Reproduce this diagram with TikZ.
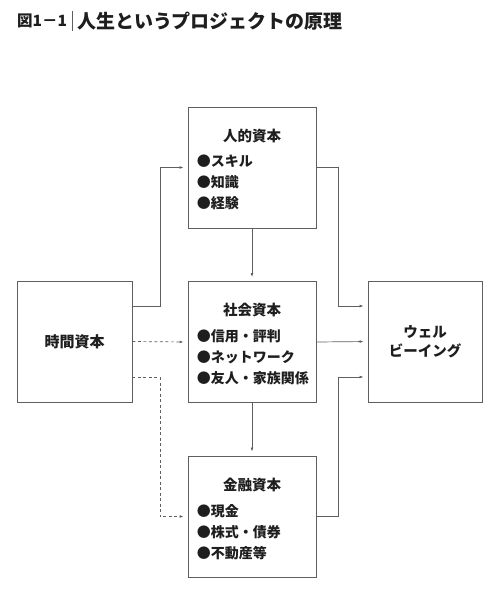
\documentclass[tikz,border=0pt]{standalone}
\usepackage{fontspec}
\setmainfont{Noto Sans CJK JP}
\usetikzlibrary{arrows.meta,positioning}
\definecolor{linegray}{HTML}{5F5F5F}
\definecolor{ink}{HTML}{1E1E1E}
\tikzset{
	box/.style={draw=linegray, line width=0.9pt, minimum width=128pt, minimum height=121pt, inner sep=0pt},
	head/.style={font=\bfseries\fontsize{14.5}{19}\selectfont, text=ink, inner sep=0pt},
	item/.style={font=\bfseries\fontsize{14}{17}\selectfont, text=ink, anchor=west, inner sep=0pt},
	link/.style={draw=linegray, line width=0.7pt, shorten >=4pt, -{Latex[length=4pt,width=2.8pt]}},
	dlink/.style={link, dash pattern=on 3pt off 2.5pt},
}
\begin{document}
\begin{tikzpicture}[x=1pt, y=-1pt]
			\useasboundingbox (0,0) rectangle (500,600);

			% title
			\node[anchor=west, inner sep=0pt, text=ink, font=\bfseries\fontsize{15.5}{18}\selectfont] (fig) at (17,21) {図1－1};
			\node[anchor=west, inner sep=0pt, text=ink, font=\bfseries\fontsize{19}{22}\selectfont] (ttl) at (77,21) {人生というプロジェクトの原理};
			\draw[linegray, line width=0.7pt] (72,11) -- (72,31);

			% boxes
			\node[box, minimum width=115pt] (time) at (74.5,341.5) {};
			\node[box] (human) at (252,167.5) {};
			\node[box] (social) at (252,342) {};
			\node[box] (finance) at (252,516.5) {};
			\node[box, minimum width=114pt] (wb) at (425,341.5) {};

			\node[head, font=\bfseries\fontsize{15}{19}\selectfont] (time-h) at (time) {時間資本};
			\node[head, align=center] (wb-h) at (wb) {ウェル\\ビーイング};

			\node[head] (human-h) at ([yshift=-29pt]human.north) {人的資本};
			\node[item] (human-1) at ([xshift=9pt,yshift=-55pt]human.north west) {●スキル};
			\node[item] (human-2) at ([xshift=9pt,yshift=-76pt]human.north west) {●知識};
			\node[item] (human-3) at ([xshift=9pt,yshift=-97pt]human.north west) {●経験};

			\node[head] (social-h) at ([yshift=-29pt]social.north) {社会資本};
			\node[item] (social-1) at ([xshift=9pt,yshift=-55pt]social.north west) {●信用・評判};
			\node[item] (social-2) at ([xshift=9pt,yshift=-76pt]social.north west) {●ネットワーク};
			\node[item] (social-3) at ([xshift=9pt,yshift=-97pt]social.north west) {●友人・家族関係};

			\node[head] (finance-h) at ([yshift=-29pt]finance.north) {金融資本};
			\node[item] (finance-1) at ([xshift=9pt,yshift=-56pt]finance.north west) {●現金};
			\node[item] (finance-2) at ([xshift=9pt,yshift=-77pt]finance.north west) {●株式・債券};
			\node[item] (finance-3) at ([xshift=9pt,yshift=-98pt]finance.north west) {●不動産等};

			% connectors
			\draw[link] ([yshift=35.5pt]time.east) -- ++(27.5,0) |- (human.west);
			\draw[dlink] (time.east) -- (social.west);
			\draw[dlink] ([yshift=-35.5pt]time.east) -- ++(27.5,0) |- (finance.west);
			\draw[link] (human.south) -- (social.north);
			\draw[link] (social.south) -- (finance.north);
			\draw[link] (human.east) -- ++(22,0) |- ([yshift=35.5pt]wb.west);
			\draw[link] (social.east) -- (wb.west);
			\draw[link] (finance.east) -- ++(22,0) |- ([yshift=-35.5pt]wb.west);
		\end{tikzpicture}
\end{document}
